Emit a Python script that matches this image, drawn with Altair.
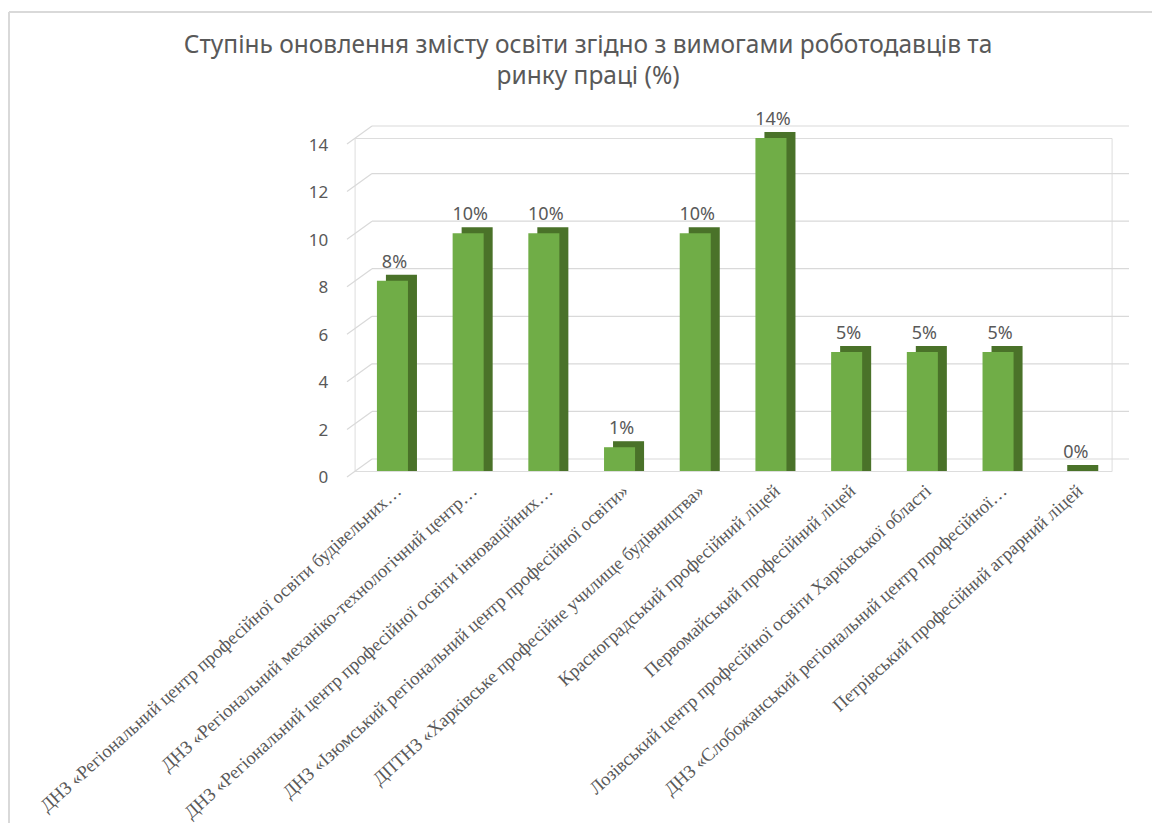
import altair as alt
import pandas as pd

categories = [
    "ДНЗ «Регіональний центр професійної освіти будівельних…",
    "ДНЗ «Регіональний механіко-технологічний центр…",
    "ДНЗ «Регіональний центр професійної освіти інноваційних…",
    "ДНЗ «Ізюмський регіональний центр професійної освіти»",
    "ДПТНЗ «Харківське професійне училище будівництва»",
    "Красноградський професійний ліцей",
    "Первомайський професійний ліцей",
    "Лозівський центр професійної освіти Харківської області",
    "ДНЗ «Слобожанський регіональний центр професійної…",
    "Петрівський професійний аграрний ліцей",
]
values = [8, 10, 10, 1, 10, 14, 5, 5, 5, 0]
y_ticks = [0, 2, 4, 6, 8, 10, 12, 14]
title_lines = [
    "Ступінь оновлення змісту освіти згідно з вимогами роботодавців та",
    "ринку праці (%)",
]

df = pd.DataFrame({"cat": categories, "v": values})
df["lbl"] = [f"{v}%" for v in values]
ticks_df = pd.DataFrame({"t": y_ticks})
one_df = pd.DataFrame({"a": [0]})

W, H = 757, 333
PAD_L, PAD_T = 346.6, 130

xscale = alt.Scale(paddingInner=0.59, paddingOuter=0.295)
yscale = alt.Scale(domain=[0, 14], nice=False)

x_enc = alt.X(
    "cat:N", sort=None, scale=xscale, title=None,
    axis=alt.Axis(
        labelAngle=-42, labelFont="Liberation Serif", labelFontSize=18.5,
        labelColor="#595959", labelPadding=10, labelLimit=0,
        domain=False, ticks=False,
    ),
)
y_axis = alt.Axis(
    values=y_ticks, grid=False, domain=False, ticks=False,
    labelPadding=27, labelOffset=7, labelFont="Noto Sans",
    labelFontSize=17, labelColor="#595959",
)

grid_h = alt.Chart(ticks_df).mark_rule(color="#D9D9D9", strokeWidth=1.2, yOffset=-12).encode(
    y=alt.Y("t:Q", scale=yscale, axis=y_axis, title=None),
    x=alt.value(17.4), x2=alt.value(774.4),
)
grid_s = alt.Chart(ticks_df).mark_rule(color="#D9D9D9", strokeWidth=1.2, yOffset=6, y2Offset=-12).encode(
    y=alt.Y("t:Q", scale=yscale),
    y2="t:Q",
    x=alt.value(-7.6), x2=alt.value(17.4),
)

side = alt.Chart(df).mark_bar(color="#4A7229", xOffset=9, yOffset=-6, y2Offset=0).encode(
    x=x_enc,
    y=alt.Y("v:Q", scale=yscale),
    y2=alt.datum(0),
)
front = alt.Chart(df).mark_bar(color="#70AD47").encode(
    x=x_enc,
    y=alt.Y("v:Q", scale=yscale),
    y2=alt.datum(0),
)
labels = alt.Chart(df).mark_text(
    font="Noto Sans", fontSize=18, color="#595959", baseline="bottom", dy=-9, dx=2,
).encode(
    x=x_enc,
    y=alt.Y("v:Q", scale=yscale),
    text="lbl:N",
)

border_top = alt.Chart(one_df).mark_rule(color="#D9D9D9", strokeWidth=2).encode(
    x=alt.value(-345.6), x2=alt.value(820), y=alt.value(-126),
)
border_left = alt.Chart(one_df).mark_rule(color="#D9D9D9", strokeWidth=2).encode(
    x=alt.value(-345.6), y=alt.value(-126), y2=alt.value(700),
)

chart = alt.layer(
    border_top, border_left, grid_h, grid_s, side, front, labels
).properties(
    width=W, height=H,
    title=alt.TitleParams(
        text=title_lines, font="Noto Sans", fontSize=24.5, fontWeight="normal",
        color="#595959", anchor="middle", dx=-145, offset=-79, lineHeight=32,
    ),
    autosize=alt.AutoSizeParams(type="none"),
    padding={"left": PAD_L, "top": PAD_T, "right": 40, "bottom": 352},
).configure_view(stroke=None).configure(background="white")

chart.save("out.html", embed_options={"renderer": "svg", "actions": False})
